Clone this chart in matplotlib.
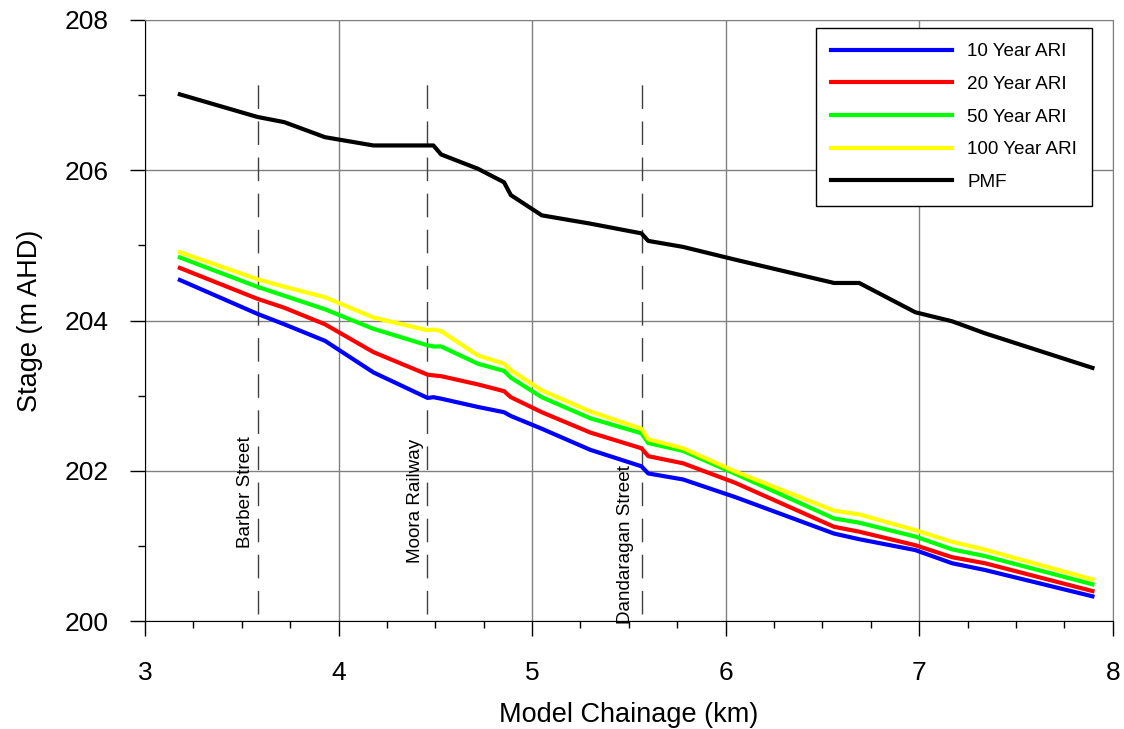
import matplotlib
matplotlib.use("Agg")
import matplotlib.pyplot as plt
import numpy as np
from matplotlib.ticker import MultipleLocator

plt.rcParams['font.family'] = ['Liberation Sans', 'DejaVu Sans']

# chainage (km) shared by all profiles
chainage = [3.18, 3.58, 3.72, 3.93, 4.18, 4.46, 4.49, 4.53, 4.72, 4.855, 4.89,
            5.05, 5.30, 5.565, 5.60, 5.78, 6.05, 6.56, 6.69, 6.98, 7.17, 7.34, 7.895]

ari10 = [204.54, 204.09, 203.95, 203.73, 203.31, 202.97, 202.98, 202.96, 202.85, 202.78, 202.73,
         202.56, 202.28, 202.06, 201.965, 201.885, 201.65, 201.165, 201.09, 200.945, 200.77, 200.68, 200.33]
ari20 = [204.70, 204.29, 204.17, 203.95, 203.58, 203.28, 203.27, 203.26, 203.15, 203.06, 202.98,
         202.78, 202.51, 202.30, 202.195, 202.10, 201.84, 201.255, 201.19, 201.01, 200.85, 200.77, 200.40]
ari50 = [204.84, 204.45, 204.33, 204.15, 203.89, 203.67, 203.655, 203.655, 203.425, 203.33, 203.24,
         202.98, 202.70, 202.50, 202.37, 202.265, 201.96, 201.366, 201.31, 201.125, 200.955, 200.865, 200.49]
ari100 = [204.91, 204.55, 204.45, 204.31, 204.04, 203.87, 203.88, 203.86, 203.535, 203.425, 203.34,
          203.07, 202.79, 202.56, 202.42, 202.30, 201.99, 201.47, 201.42, 201.21, 201.055, 200.95, 200.555]
pmf = [207.01, 206.71, 206.64, 206.44, 206.33, 206.33, 206.33, 206.21, 206.02, 205.84, 205.67,
       205.40, 205.29, 205.16, 205.06, 204.98, 204.81, 204.50, 204.50, 204.11, 203.99, 203.83, 203.37]

series = [ari10, ari20, ari50, ari100, pmf]
labels = ["10 Year ARI", "20 Year ARI", "50 Year ARI", "100 Year ARI", "PMF"]
colors = ["#0000ff", "#ff0000", "#00ff00", "#ffff00", "#000000"]

# structures along the channel
struct_x = [3.584, 4.457, 5.568]
struct_names = ["Barber Street", "Moora Railway", "Dandaragan Street"]
struct_label_pos = [(3.52, 201.72), (4.398, 201.6), (5.48, 201.02)]

fig = plt.figure(figsize=(11.24, 7.29), dpi=100)
ax = fig.add_axes([0.129, 0.148, 0.861, 0.8246])

ax.set_xlim(3, 8)
ax.set_ylim(200, 208)
ax.xaxis.set_major_locator(MultipleLocator(1))
ax.xaxis.set_minor_locator(MultipleLocator(0.25))
ax.yaxis.set_major_locator(MultipleLocator(2))
ax.yaxis.set_minor_locator(MultipleLocator(1))
ax.grid(True, which='major', color='#808080', lw=1)
ax.set_axisbelow(True)

for sx in struct_x:
    ax.plot([sx, sx], [200.1, 207.17], color='#404040', lw=1, dashes=(17, 9), zorder=2)
for name, (tx, ty) in zip(struct_names, struct_label_pos):
    ax.text(tx, ty, name, rotation=90, ha='center', va='center', fontsize=13.6)

for vals, lab, col in zip(series, labels, colors):
    ax.plot(chainage, vals, color=col, lw=3, label=lab, zorder=3)

for s in ['top', 'right']:
    ax.spines[s].set_color('#808080')
ax.tick_params(which='major', length=11, width=1, labelsize=19, direction='out')
ax.tick_params(axis='x', which='major', pad=18)
ax.tick_params(axis='y', which='major', pad=15)
ax.tick_params(which='minor', length=5, width=1, direction='out')
ax.tick_params(top=False, right=False, which='both')

ax.set_xlabel("Model Chainage (km)", fontsize=19.5, labelpad=12)
ax.set_ylabel("Stage (m AHD)", fontsize=19.5, labelpad=16)

leg = ax.legend(loc='upper right', bbox_to_anchor=(0.979, 0.987), fontsize=13.6,
                fancybox=False, edgecolor='black', framealpha=1, handlelength=6.4,
                handletextpad=0.8, labelspacing=0.82, borderpad=0.8, borderaxespad=0)
leg.get_frame().set_linewidth(1)

fig.savefig("out.png", dpi=100)
